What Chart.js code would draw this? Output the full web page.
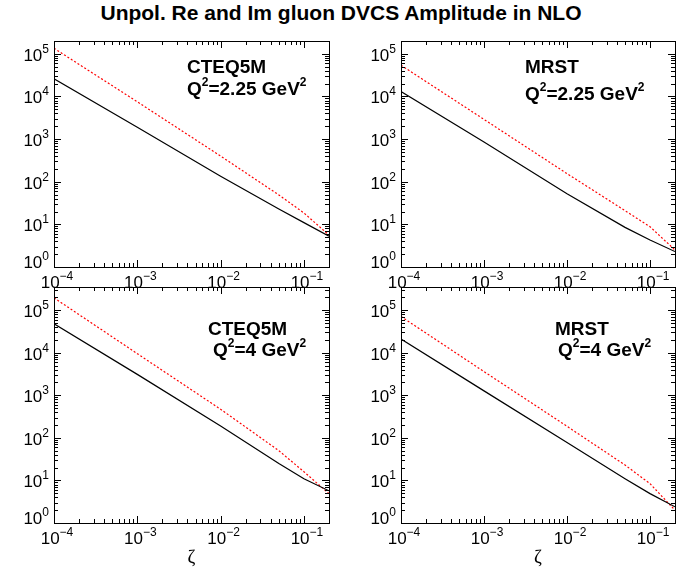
<!DOCTYPE html>
<html>
<head>
<meta charset="utf-8">
<script src="https://cdn.jsdelivr.net/npm/chart.js@4"></script>
<style>
  body { margin: 0; background: #fff; }
  #wrap { position: relative; width: 694px; height: 577px; overflow: hidden; font-family: "Liberation Sans", Arial, sans-serif; }
  #title { position: absolute; left: -6px; top: 1px; width: 694px; text-align: center; font-weight: bold; font-size: 21px; }
  canvas { position: absolute; left: 0; top: 0; }
</style>
</head>
<body>
<div id="wrap">
  <div id="title">Unpol. Re and Im gluon DVCS Amplitude in NLO</div>
  <canvas id="p1" width="694" height="577"></canvas>
  <canvas id="p2" width="694" height="577"></canvas>
  <canvas id="p3" width="694" height="577"></canvas>
  <canvas id="p4" width="694" height="577"></canvas>
</div>
<script>
const zeta = [1e-4, 1e-3, 1e-2, 0.05, 0.1, 0.2];

// CTEQ5M, Q^2 = 2.25 GeV^2
const cteq225Solid  = [2.6e4, 1.9e3, 135, 23, 11, 5.3];
const cteq225Dotted = [1.35e5, 7.5e3, 400, 49, 18.5, 5.6];
// MRST, Q^2 = 2.25 GeV^2
const mrst225Solid  = [1.3e4, 850, 52, 8.5, 4.3, 2.3];
const mrst225Dotted = [5.4e4, 2.9e3, 155, 21, 8.8, 2.5];
// CTEQ5M, Q^2 = 4 GeV^2
const cteq4Solid  = [4.8e4, 3.1e3, 190, 25, 11, 5.7];
const cteq4Dotted = [1.95e5, 9.5e3, 470, 50, 16, 4.9];
// MRST, Q^2 = 4 GeV^2
const mrst4Solid  = [2.1e4, 1.27e3, 78, 11, 4.9, 2.4];
const mrst4Dotted = [7.1e4, 3.6e3, 187, 23, 8.4, 2.0];

const xTickValues = [1e-4, 1e-3, 1e-2, 1e-1];
const xTickExps = ["\u22124", "\u22123", "\u22122", "\u22121"];
const yTickValues = [1, 10, 100, 1e3, 1e4, 1e5];
const yTickExps = ["0", "1", "2", "3", "4", "5"];

const pdfNames = ["CTEQ5M", "MRST", "CTEQ5M", "MRST"];
const q2Values = ["2.25", "2.25", "4", "4"];

const BASE_FONT = '"Liberation Sans", Arial, sans-serif';

// draws text pieces, some of them as superscripts
function drawRich(ctx, parts, x, y, size, supSize, raise, bold, align) {
  const w = (bold ? "bold " : "");
  let total = 0;
  const widths = parts.map(p => {
    ctx.font = w + (p.sup ? supSize : size) + "px " + BASE_FONT;
    const m = ctx.measureText(p.t).width;
    total += m;
    return m;
  });
  let cx = x;
  if (align === "center") cx = x - total / 2;
  if (align === "right") cx = x - total;
  parts.forEach((p, i) => {
    ctx.font = w + (p.sup ? supSize : size) + "px " + BASE_FONT;
    ctx.fillText(p.t, cx, p.sup ? y - raise : y);
    cx += widths[i];
  });
}

const framePlugin = {
  id: "frame",
  afterDraw(chart, args, opts) {
    const { ctx, chartArea: a, scales: { x, y } } = chart;
    ctx.save();
    ctx.strokeStyle = "#000";
    ctx.fillStyle = "#000";
    ctx.lineWidth = 1;
    ctx.strokeRect(a.left + 0.5, a.top + 0.5, a.right - a.left, a.bottom - a.top);

    // tick marks on all four sides
    ctx.beginPath();
    for (let d = -4; d <= -1; d++) {
      for (let m = 1; m <= 9; m++) {
        const v = m * Math.pow(10, d);
        if (v > x.max * 1.0001) continue;
        const px = Math.round(x.getPixelForValue(v)) + 0.5;
        const len = m === 1 ? 7 : 4;
        ctx.moveTo(px, a.bottom); ctx.lineTo(px, a.bottom - len);
        ctx.moveTo(px, a.top); ctx.lineTo(px, a.top + len);
      }
    }
    for (let d = 0; d <= 5; d++) {
      for (let m = 1; m <= 9; m++) {
        const v = m * Math.pow(10, d);
        if (v > y.max * 1.0001) continue;
        const py = Math.round(y.getPixelForValue(v)) + 0.5;
        const len = m === 1 ? 7 : 4;
        ctx.moveTo(a.left, py); ctx.lineTo(a.left + len, py);
        ctx.moveTo(a.right, py); ctx.lineTo(a.right - len, py);
      }
    }
    ctx.stroke();

    // tick labels
    ctx.textBaseline = "alphabetic";
    xTickValues.forEach((v, i) => {
      const px = x.getPixelForValue(v);
      drawRich(ctx, [{ t: "10" }, { t: xTickExps[i], sup: true }], px + 3, a.bottom + 21, 17, 12, 8, false, "center");
    });
    yTickValues.forEach((v, i) => {
      const py = y.getPixelForValue(v) + (i === 0 ? 1 : 7);
      drawRich(ctx, [{ t: "10" }, { t: yTickExps[i], sup: true }], a.left - 5, py, 17, 12, 8, false, "right");
    });

    // panel annotation
    drawRich(ctx, [{ t: opts.name }], a.left + opts.tx1, a.top + opts.ty1, 19, 12, 9, true, "left");
    drawRich(ctx, [{ t: "Q" }, { t: "2", sup: true }, { t: "=" + opts.q2 + " GeV" }, { t: "2", sup: true }],
      a.left + opts.tx2, a.top + opts.ty2, 19, 12, 9, true, "left");

    if (opts.zeta) {
      ctx.font = '19px "Liberation Serif", "DejaVu Serif", serif';
      ctx.textAlign = "center";
      ctx.fillText("\u03B6", (a.left + a.right) / 2, 563);
    }
    ctx.restore();
  }
};

function toPoints(values) {
  return values.map((v, i) => ({ x: zeta[i], y: v }));
}

function makePanel(id, pad, yMax, solid, dotted, k, ann) {
  new Chart(document.getElementById(id), {
    type: "line",
    data: {
      datasets: [
        {
          data: toPoints(solid),
          borderColor: "#000",
          borderWidth: 1.2,
          pointRadius: 0,
          tension: 0,
        },
        {
          data: toPoints(dotted),
          borderColor: "#ff0000",
          borderWidth: 1.2,
          borderDash: [2, 2],
          pointRadius: 0,
          tension: 0,
        },
      ],
    },
    options: {
      responsive: false,
      animation: false,
      events: [],
      layout: { padding: pad },
      plugins: {
        legend: { display: false },
        tooltip: { enabled: false },
        frame: Object.assign({ name: pdfNames[k], q2: q2Values[k] }, ann),
      },
      scales: {
        x: { type: "logarithmic", min: 1e-4, max: 0.2, display: false },
        y: { type: "logarithmic", min: 1, max: yMax, display: false },
      },
    },
    plugins: [framePlugin],
  });
}

makePanel("p1", { left: 54, right: 365, top: 41, bottom: 310 }, 2e5, cteq225Solid, cteq225Dotted, 0,
  { tx1: 133, ty1: 32, tx2: 133, ty2: 54, zeta: false });
makePanel("p2", { left: 401, right: 19, top: 41, bottom: 310 }, 2e5, mrst225Solid, mrst225Dotted, 1,
  { tx1: 124, ty1: 32, tx2: 124, ty2: 59, zeta: false });
makePanel("p3", { left: 54, right: 365, top: 287, bottom: 54 }, 3.5e5, cteq4Solid, cteq4Dotted, 2,
  { tx1: 154, ty1: 48, tx2: 159, ty2: 69, zeta: true });
makePanel("p4", { left: 401, right: 19, top: 287, bottom: 54 }, 3.5e5, mrst4Solid, mrst4Dotted, 3,
  { tx1: 154, ty1: 48, tx2: 157, ty2: 69, zeta: true });
</script>
</body>
</html>
